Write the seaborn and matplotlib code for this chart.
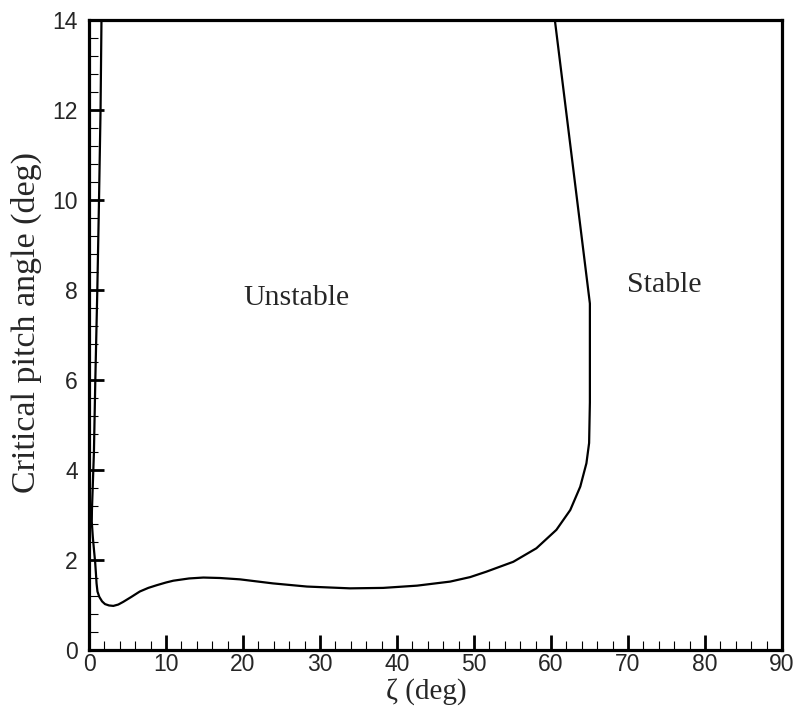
import numpy as np
import pandas as pd
import matplotlib
matplotlib.use("Agg")
import matplotlib.pyplot as plt
import seaborn as sns
from matplotlib.ticker import MultipleLocator

# Stability boundary, traced in path order (top-left, down, along bottom, up right side)
zeta = [1.62, 1.50, 1.30, 1.08, 0.82, 0.64, 0.50, 0.38, 0.36, 0.50, 0.66, 0.80,
        0.90, 0.98, 1.10, 1.34, 1.70, 2.08, 2.60, 3.16, 3.80, 4.45, 5.50,
        6.60, 7.70, 8.80, 10.0, 10.95, 13.0, 14.85, 17.0, 19.6, 23.9,
        28.3, 33.9, 38.2, 42.6, 46.9, 49.5, 51.6, 55.1, 58.1, 60.7,
        62.5, 63.8, 64.6, 64.95, 65.05, 65.05, 60.5]
pitch = [14.0, 12.0, 10.0, 8.0, 6.0, 4.4, 3.7, 3.1, 2.85, 2.5, 2.2, 1.95,
         1.7, 1.48, 1.30, 1.18, 1.08, 1.02, 0.99, 0.98, 1.01, 1.07, 1.18,
         1.30, 1.38, 1.44, 1.50, 1.54, 1.59, 1.61, 1.60, 1.57, 1.48,
         1.41, 1.37, 1.38, 1.43, 1.52, 1.62, 1.74, 1.96, 2.26, 2.67,
         3.11, 3.63, 4.15, 4.6, 5.5, 7.7, 14.0]

x_ticks = [0, 10, 20, 30, 40, 50, 60, 70, 80, 90]
y_ticks = [0, 2, 4, 6, 8, 10, 12, 14]
region_labels = ["Unstable", "Stable"]
region_x = [27.0, 74.7]
region_y = [7.82, 8.1]

sns.set_theme(style="white")
plt.rcParams['font.family'] = ['Liberation Sans', 'DejaVu Sans']

fig = plt.figure(figsize=(7.98, 7.13), dpi=100)
ax = fig.add_axes([89/798, 1-650/713, (782-89)/798, (650-20)/713])

df = pd.DataFrame({"zeta": zeta, "pitch": pitch})
sns.lineplot(data=df, x="zeta", y="pitch", sort=False, estimator=None,
             color="black", linewidth=1.6, ax=ax)

ax.set_xlim(0, 90)
ax.set_ylim(0, 14)
ax.set_xticks(x_ticks)
ax.set_yticks(y_ticks)
ax.xaxis.set_minor_locator(MultipleLocator(2))
ax.yaxis.set_minor_locator(MultipleLocator(0.4))

ax.tick_params(axis="both", which="major", direction="in", length=11, width=2.0,
               color="black", labelsize=16.5, bottom=True, left=True, top=False, right=False)
ax.tick_params(axis="both", which="minor", direction="in", length=6.5, width=0.8,
               color="black", bottom=True, left=True, top=False, right=False)
ax.tick_params(axis="x", which="major", pad=2)
ax.tick_params(axis="y", which="major", pad=8)

for s in ax.spines.values():
    s.set_visible(True)
    s.set_color("black")
    s.set_linewidth(2.3)

serif = ['Liberation Serif', 'DejaVu Serif']
ax.set_xlabel("ζ (deg)", family=serif, fontsize=21)
ax.set_ylabel("Critical pitch angle (deg)", family=serif, fontsize=24.5)
ax.xaxis.set_label_coords(0.487, -0.045)
ax.yaxis.set_label_coords(-0.068, 0.52)

for lab, xx, yy in zip(region_labels, region_x, region_y):
    ax.text(xx, yy, lab, family=serif, fontsize=21.5, ha="center", va="center")

ax.grid(False)
fig.savefig("out.png", dpi=100)
